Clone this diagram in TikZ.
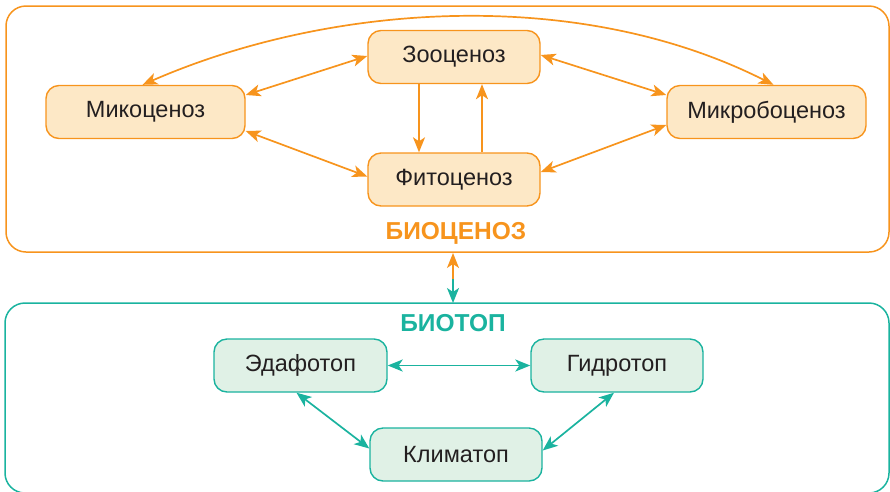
\documentclass[tikz,border=0pt]{standalone}
\usepackage{fontspec}
\setmainfont{Liberation Sans}
\usetikzlibrary{arrows.meta}
\definecolor{orn}{HTML}{F7941D}
\definecolor{ornfill}{HTML}{FDE8C6}
\definecolor{tel}{HTML}{1AB39F}
\definecolor{telfill}{HTML}{E0F1E6}
\definecolor{txt}{HTML}{231F20}
\tikzset{
  obox/.style={draw=orn, fill=ornfill, line width=1.4pt, rounded corners=13pt, inner sep=0pt,
    minimum width=172pt, minimum height=53pt, text=txt, font=\fontsize{23.5}{27}\selectfont},
  tbox/.style={draw=tel, fill=telfill, line width=1.4pt, rounded corners=13pt, inner sep=0pt,
    minimum width=172pt, minimum height=53pt, text=txt, font=\fontsize{23.5}{27}\selectfont},
  oarr/.style={draw=orn, line width=1.7pt, {Stealth[length=15pt,width=12pt,inset=4pt]}-{Stealth[length=15pt,width=12pt,inset=4pt]}},
  oone/.style={draw=orn, line width=1.7pt, -{Stealth[length=15pt,width=12pt,inset=4pt]}},
  tarr/.style={draw=tel, line width=1.7pt, {Stealth[length=15pt,width=12pt,inset=4pt]}-{Stealth[length=15pt,width=12pt,inset=4pt]}},
  tone/.style={draw=tel, line width=1.7pt, -{Stealth[length=15pt,width=12pt,inset=4pt]}},
  biglabel/.style={font=\fontsize{24.5}{28}\selectfont\bfseries, inner sep=0pt}
}
\begin{document}
\begin{tikzpicture}[x=1pt,y=-1pt]
\useasboundingbox (0,0) rectangle (890,491);
% frames
\node[draw=orn, line width=1.5pt, rounded corners=20pt, minimum width=883pt, minimum height=246pt, inner sep=0pt] (bioc) at (447.5,129) {};
\node[draw=tel, line width=1.5pt, rounded corners=20pt, minimum width=884pt, minimum height=190pt, inner sep=0pt] (biot) at (447,398) {};
% labels
\node[biglabel, text=orn] (lbioc) at (456,233) {БИОЦЕНОЗ};
\node[biglabel, text=tel] (lbiot) at (453,323) {БИОТОП};
% orange nodes
\node[obox] (zoo) at (454,57) {Зооценоз};
\node[obox, minimum width=199pt] (myco) at (145.5,112) {Микоценоз};
\node[obox] (phyto) at (454,179.5) {Фитоценоз};
\node[obox, minimum width=199pt] (micro) at (766.5,112) {Микробоценоз};
% teal nodes
\node[tbox, minimum width=173pt] (edaf) at (300.5,365.5) {Эдафотоп};
\node[tbox] (hydro) at (617,365.5) {Гидротоп};
\node[tbox] (clim) at (456,454.5) {Климатоп};
% orange arrows
\draw[oone] ([xshift=-35pt]zoo.south) -- ([xshift=-35pt]phyto.north);
\draw[oone] ([xshift=28pt]phyto.north) -- ([xshift=28pt]zoo.south);
\draw[oarr] ([yshift=17pt]myco.east) -- ([yshift=1pt]zoo.west);
\draw[oarr] ([yshift=-19pt]myco.east) -- ([yshift=3pt]phyto.west);
\draw[oarr] ([yshift=2pt]zoo.east) -- ([yshift=17pt]micro.west);
\draw[oarr] ([yshift=7.5pt]phyto.east) -- ([yshift=-13pt]micro.west);
\draw[oarr] ([xshift=-3pt]myco.north) .. controls (330,3) and (578,-14) .. ([xshift=7pt]micro.north);
% between frames
\coordinate (vt) at (453,253);
\coordinate (vm) at (453,279);
\coordinate (vb) at (453,303);
\draw[oone] (vm) -- (vt);
\draw[tone] (vm) -- (vb);
% teal arrows
\draw[tarr] (edaf.east) -- (hydro.west);
\draw[tarr] ([xshift=-4pt]edaf.south) -- ([yshift=6pt]clim.west);
\draw[tarr] ([xshift=-3pt]hydro.south) -- ([yshift=4pt]clim.east);
\end{tikzpicture}
\end{document}
